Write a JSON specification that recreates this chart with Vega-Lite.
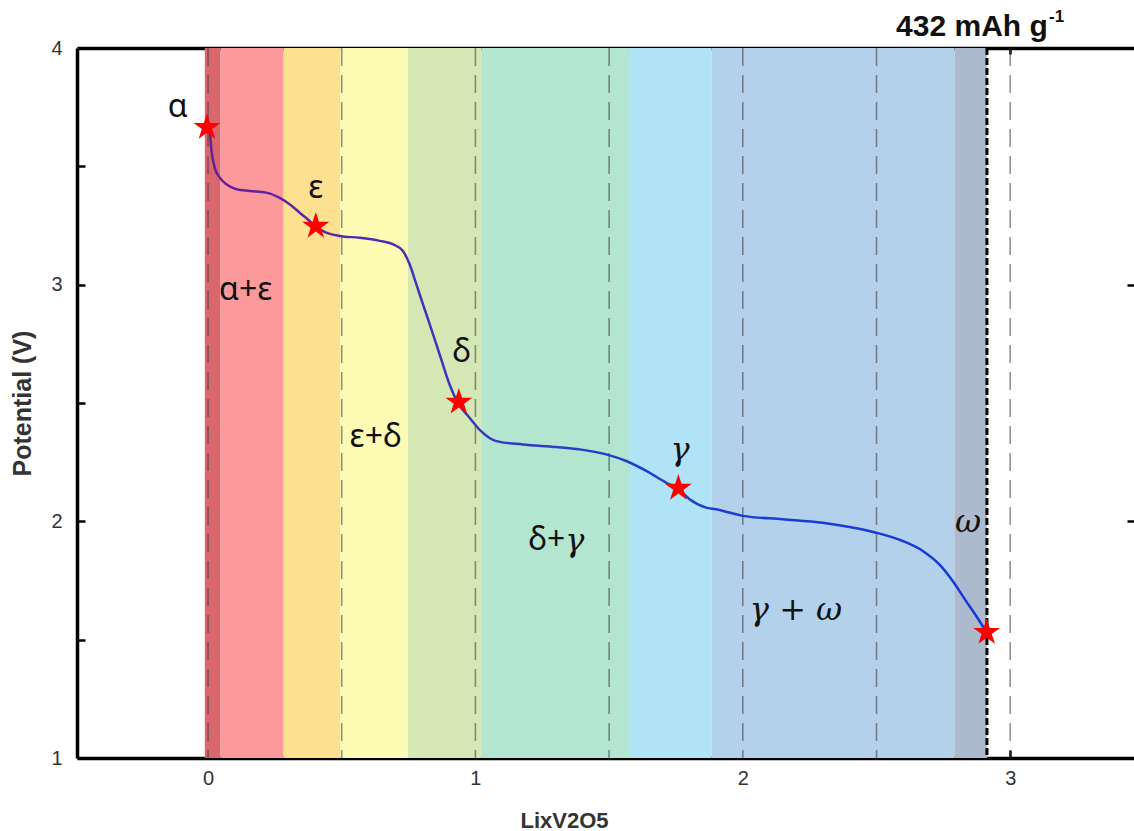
{
  "$schema": "https://vega.github.io/schema/vega-lite/v6.json",
  "width": 1057,
  "height": 710,
  "autosize": "none",
  "padding": {"left": 77, "top": 48, "right": 0, "bottom": 73},
  "background": "white",
  "config": {
    "view": {"stroke": null},
    "axis": {
      "grid": false,
      "domainColor": "#000000",
      "domainWidth": 3.5,
      "tickColor": "#000000",
      "tickWidth": 2.5,
      "labelFont": "Liberation Sans",
      "labelFontSize": 20,
      "labelColor": "#333333",
      "titleFont": "Liberation Sans",
      "titleFontSize": 22,
      "titleFontWeight": "bold",
      "titleColor": "#333333"
    }
  },
  "datasets": {
    "bands": [
      {"start": -0.012, "end": 0.047, "phase": "p1"},
      {"start": 0.047, "end": 0.283, "phase": "p2"},
      {"start": 0.283, "end": 0.494, "phase": "p3"},
      {"start": 0.494, "end": 0.748, "phase": "p4"},
      {"start": 0.748, "end": 1.022, "phase": "p5"},
      {"start": 1.022, "end": 1.578, "phase": "p6"},
      {"start": 1.578, "end": 1.883, "phase": "p7"},
      {"start": 1.883, "end": 2.791, "phase": "p8"},
      {"start": 2.791, "end": 2.913, "phase": "p9"}
    ],
    "vlines": [{"x": 0}, {"x": 0.5}, {"x": 1}, {"x": 1.5}, {"x": 2}, {"x": 2.5}, {"x": 3}],
    "capacity": [{"x": 2.913}],
    "curve": [
      {"x": -0.004, "y": 3.662}, {"x": 0.006, "y": 3.65}, {"x": 0.013, "y": 3.565}, {"x": 0.025, "y": 3.495},
      {"x": 0.044, "y": 3.452}, {"x": 0.069, "y": 3.424}, {"x": 0.106, "y": 3.403}, {"x": 0.156, "y": 3.396},
      {"x": 0.218, "y": 3.389}, {"x": 0.268, "y": 3.367}, {"x": 0.305, "y": 3.34}, {"x": 0.343, "y": 3.304},
      {"x": 0.38, "y": 3.269}, {"x": 0.399, "y": 3.248}, {"x": 0.442, "y": 3.22}, {"x": 0.492, "y": 3.206},
      {"x": 0.567, "y": 3.198}, {"x": 0.642, "y": 3.185}, {"x": 0.691, "y": 3.171}, {"x": 0.729, "y": 3.142},
      {"x": 0.754, "y": 3.086}, {"x": 0.779, "y": 3.002}, {"x": 0.804, "y": 2.917}, {"x": 0.829, "y": 2.833},
      {"x": 0.854, "y": 2.748}, {"x": 0.878, "y": 2.664}, {"x": 0.903, "y": 2.579}, {"x": 0.934, "y": 2.501},
      {"x": 0.978, "y": 2.438}, {"x": 1.021, "y": 2.381}, {"x": 1.078, "y": 2.339}, {"x": 1.177, "y": 2.325},
      {"x": 1.302, "y": 2.314}, {"x": 1.389, "y": 2.304}, {"x": 1.489, "y": 2.283}, {"x": 1.564, "y": 2.255},
      {"x": 1.639, "y": 2.213}, {"x": 1.714, "y": 2.163}, {"x": 1.759, "y": 2.137}, {"x": 1.801, "y": 2.093},
      {"x": 1.863, "y": 2.058}, {"x": 1.9, "y": 2.051}, {"x": 1.95, "y": 2.037}, {"x": 2.0, "y": 2.023},
      {"x": 2.149, "y": 2.009}, {"x": 2.299, "y": 1.994}, {"x": 2.399, "y": 1.976}, {"x": 2.499, "y": 1.952},
      {"x": 2.598, "y": 1.917}, {"x": 2.673, "y": 1.875}, {"x": 2.735, "y": 1.818}, {"x": 2.785, "y": 1.748},
      {"x": 2.835, "y": 1.663}, {"x": 2.885, "y": 1.579}, {"x": 2.913, "y": 1.528}
    ],
    "stars": [
      {"x": -0.004, "y": 3.665}, {"x": 0.403, "y": 3.247}, {"x": 0.938, "y": 2.504},
      {"x": 1.759, "y": 2.14}, {"x": 2.912, "y": 1.531}
    ],
    "upright": [
      {"x": -0.113, "y": 3.751, "label": "α"},
      {"x": 0.403, "y": 3.408, "label": "ε"},
      {"x": 0.141, "y": 2.977, "label": "α+ε"},
      {"x": 0.949, "y": 2.715, "label": "δ"},
      {"x": 0.627, "y": 2.356, "label": "ε+δ"},
      {"x": 1.267, "y": 1.921, "label": "δ+"}
    ],
    "italic": [
      {"x": 1.372, "y": 1.915, "label": "γ"},
      {"x": 1.765, "y": 2.301, "label": "γ"},
      {"x": 2.842, "y": 1.997, "label": "ω"},
      {"x": 2.199, "y": 1.625, "label": "γ + ω"}
    ],
    "cap_main": [{"x": 2.857, "y": 4, "label": "432 mAh g"}],
    "cap_sup": [{"x": 3.145, "y": 4, "label": "-1"}]
  },
  "layer": [
    {
      "data": {"name": "bands"},
      "mark": {"type": "rect"},
      "encoding": {
        "x": {
          "field": "start", "type": "quantitative",
          "scale": {"domain": [-0.49, 3.463], "nice": false, "zero": false},
          "axis": {
            "orient": "bottom",
            "values": [0, 0.5, 1, 1.5, 2, 2.5, 3],
            "labelExpr": "datum.value % 1 === 0 ? format(datum.value, 'd') : ''",
            "tickSize": -8,
            "labelPadding": 18,
            "title": "LixV2O5",
            "titleX": 487,
            "titleY": 62,
            "titleAlign": "center",
            "titleBaseline": "middle"
          }
        },
        "x2": {"field": "end"},
        "color": {
          "field": "phase", "type": "nominal", "legend": null,
          "scale": {
            "domain": ["p1", "p2", "p3", "p4", "p5", "p6", "p7", "p8", "p9"],
            "range": ["#d9676c", "#fc9a9b", "#fde190", "#fefbb4", "#d4e8b5", "#b3e6d0", "#b1e3f6", "#b3d1ea", "#adb9cd"]
          }
        }
      }
    },
    {
      "data": {"name": "vlines"},
      "mark": {"type": "rule", "color": "#3a3a3a", "opacity": 0.55, "strokeWidth": 1.6, "strokeDash": [18, 9]},
      "encoding": {
        "x": {
          "field": "x", "type": "quantitative",
          "axis": {
            "orient": "top",
            "values": [0, 0.5, 1, 1.5, 2, 2.5, 3],
            "labels": false,
            "tickSize": -6,
            "title": null
          }
        }
      }
    },
    {
      "data": {"name": "capacity"},
      "mark": {"type": "rule", "color": "#000000", "strokeWidth": 3, "strokeDash": [7, 3]},
      "encoding": {
        "x": {"field": "x", "type": "quantitative", "axis": null}
      }
    },
    {
      "data": {"name": "curve"},
      "mark": {
        "type": "line",
        "strokeWidth": 2.5,
        "interpolate": "monotone",
        "color": {
          "gradient": "linear", "x1": 0, "y1": 0, "x2": 1, "y2": 0,
          "stops": [
            {"offset": 0, "color": "#6a1c9c"},
            {"offset": 0.12, "color": "#5e25a6"},
            {"offset": 0.3, "color": "#4034bc"},
            {"offset": 0.55, "color": "#1f3fd0"},
            {"offset": 1, "color": "#1238d8"}
          ]
        }
      },
      "encoding": {
        "x": {"field": "x", "type": "quantitative", "axis": null},
        "y": {
          "field": "y", "type": "quantitative",
          "scale": {"domain": [1, 4], "nice": false, "zero": false},
          "axis": {
            "orient": "left",
            "values": [1, 1.5, 2, 2.5, 3, 3.5, 4],
            "labelExpr": "datum.value % 1 === 0 ? format(datum.value, 'd') : ''",
            "tickSize": -8,
            "labelPadding": 23,
            "title": "Potential (V)",
            "titleFontSize": 25,
            "titleX": -55,
            "titleY": 355,
            "titleAlign": "center",
            "titleBaseline": "middle",
            "titleAngle": -90
          }
        }
      }
    },
    {
      "data": {"name": "stars"},
      "mark": {
        "type": "point", "filled": true, "color": "#ff0000", "opacity": 1, "size": 800,
        "shape": "M0,-1L0.2245,-0.309L0.951,-0.309L0.363,0.118L0.588,0.809L0,0.382L-0.588,0.809L-0.363,0.118L-0.951,-0.309L-0.2245,-0.309Z"
      },
      "encoding": {
        "x": {"field": "x", "type": "quantitative", "axis": null},
        "y": {
          "field": "y", "type": "quantitative",
          "axis": {
            "orient": "right",
            "values": [2, 3],
            "labels": false,
            "domain": false,
            "tickSize": -7,
            "title": null
          }
        }
      }
    },
    {
      "data": {"name": "upright"},
      "mark": {"type": "text", "font": "Noto Sans", "fontSize": 32, "color": "#111111", "align": "center", "baseline": "middle"},
      "encoding": {
        "x": {"field": "x", "type": "quantitative", "axis": null},
        "y": {"field": "y", "type": "quantitative", "axis": null},
        "text": {"field": "label"}
      }
    },
    {
      "data": {"name": "italic"},
      "mark": {"type": "text", "font": "DejaVu Serif", "fontStyle": "italic", "fontSize": 32, "color": "#111111", "align": "center", "baseline": "middle"},
      "encoding": {
        "x": {"field": "x", "type": "quantitative", "axis": null},
        "y": {"field": "y", "type": "quantitative", "axis": null},
        "text": {"field": "label"}
      }
    },
    {
      "data": {"name": "cap_main"},
      "mark": {"type": "text", "font": "Liberation Sans", "fontWeight": "bold", "fontSize": 30, "color": "#111111", "align": "center", "baseline": "alphabetic", "dy": -12},
      "encoding": {
        "x": {"field": "x", "type": "quantitative", "axis": null},
        "y": {"field": "y", "type": "quantitative", "axis": null},
        "text": {"field": "label"}
      }
    },
    {
      "data": {"name": "cap_sup"},
      "mark": {"type": "text", "font": "Liberation Sans", "fontWeight": "bold", "fontSize": 17, "color": "#111111", "align": "left", "baseline": "alphabetic", "dy": -26},
      "encoding": {
        "x": {"field": "x", "type": "quantitative", "axis": null},
        "y": {"field": "y", "type": "quantitative", "axis": null},
        "text": {"field": "label"}
      }
    }
  ]
}
